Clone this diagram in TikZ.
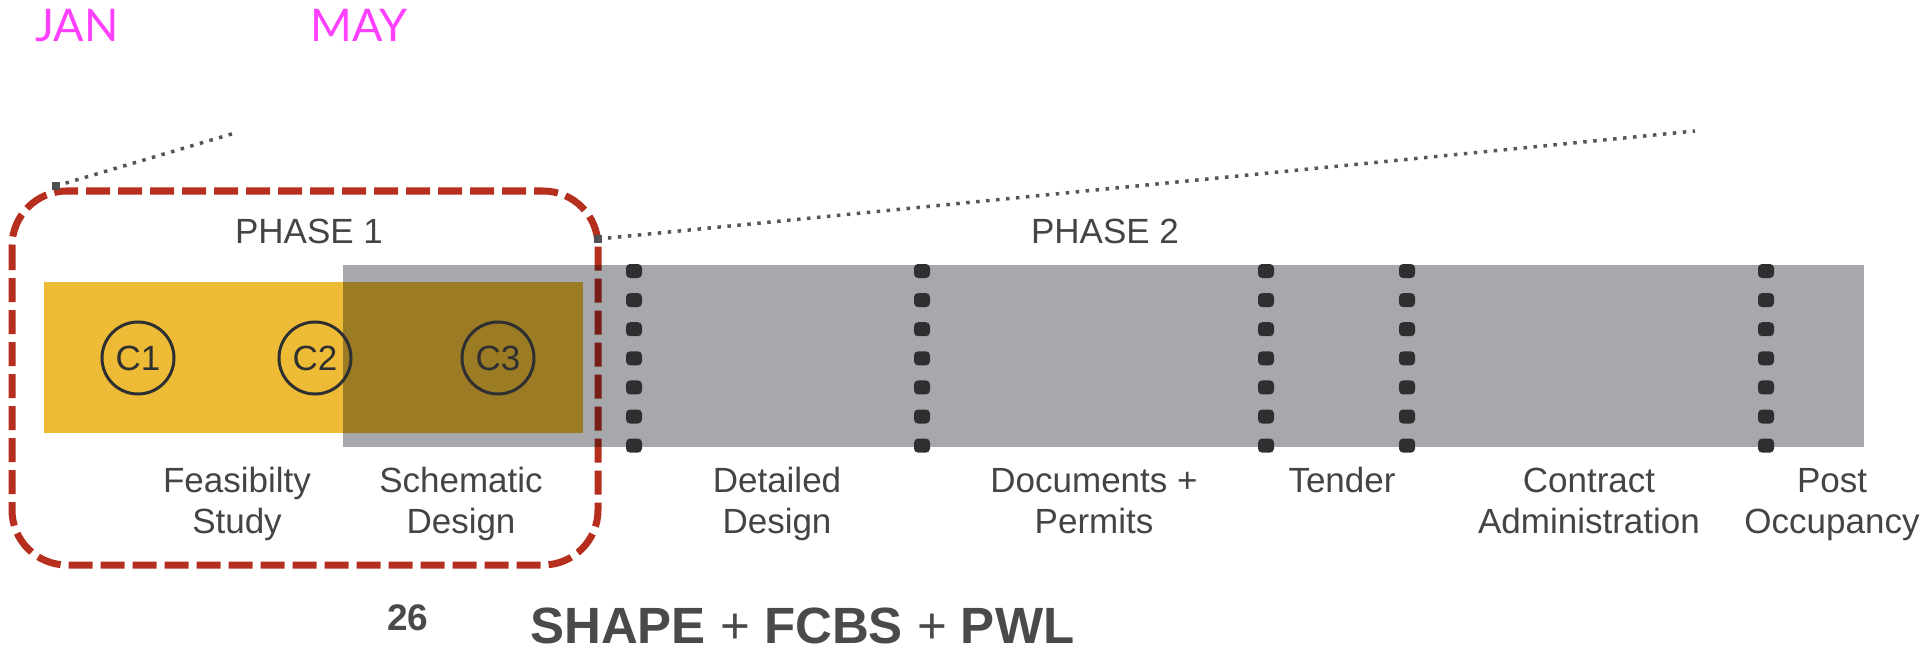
\documentclass[tikz,border=0pt]{standalone}
\usepackage{fontspec}
\setmainfont{Liberation Sans}
\newfontfamily\monthfont{Lato}
\definecolor{ink}{HTML}{444444}
\definecolor{titleink}{HTML}{4A4A4A}
\definecolor{month}{HTML}{FF40FF}
\definecolor{barGray}{HTML}{A7A8AB}
\definecolor{barYellow}{HTML}{EDBB35}
\definecolor{phaseRed}{HTML}{B52E1E}
\definecolor{dotc}{HTML}{2E2F31}
\definecolor{leader}{HTML}{555555}
\tikzset{
  lbl/.style={anchor=base, inner sep=0pt, text=ink,
    font=\fontsize{35}{41}\selectfont},
  phaselbl/.style={anchor=base, inner sep=0pt, text=ink,
    font=\fontsize{35}{41}\selectfont},
  monthlbl/.style={anchor=base, inner sep=0pt, text=month,
    font=\monthfont\fontsize{45}{50}\selectfont},
  cnode/.style={circle, draw=dotc, line width=3pt, minimum size=72pt,
    inner sep=0pt, text=dotc, font=\fontsize{35}{41}\selectfont},
  endsq/.style={rectangle, fill=dotc!85!white, minimum size=8pt, inner sep=0pt},
  dotline/.style={draw=leader, line width=3.5pt, dash pattern=on 3.5pt off 6.5pt},
  phasebox/.style={draw=phaseRed, line width=7pt, rounded corners=55pt,
    dash pattern=on 24pt off 8pt},
  milestone/.style={fill=dotc, rounded corners=4pt}
}
\newcommand{\twolines}[2]{\begin{tabular}[t]{@{}c@{}}#1\\#2\end{tabular}}
\begin{document}
\begin{tikzpicture}[x=1pt,y=-1pt]
\useasboundingbox (0,0) rectangle (1923,650);

% month markers
\node[monthlbl] (jan) at (77,42) {JAN};
\node[monthlbl] (may) at (359,42) {MAY};

% schedule bars
\fill[barGray] (343,265) rectangle (1864,447);
\begin{scope}[blend mode=multiply]
  \fill[barYellow] (44,282) rectangle (583,433);
  \draw[phasebox] (12,191) rectangle (598,565);
\end{scope}

% stage boundaries
\foreach \x in {634,922,1266,1407,1766}
  \foreach \k in {0,...,6}
    \fill[milestone] ({\x-8},{264+29.1*\k}) rectangle +(16,14);

% leaders to the months
\node[endsq] (s1) at (56,186) {};
\coordinate (e1) at (235,133);
\draw[dotline] (s1.center) -- (e1);
\node[endsq] (s2) at (598,239) {};
\coordinate (e2) at (1695,131);
\draw[dotline] (s2.center) -- (e2);

% phase titles
\node[phaselbl] (p1) at (309,243) {PHASE 1};
\node[phaselbl] (p2) at (1105,243) {PHASE 2};

% checkpoints
\node[cnode] (c1) at (138,358) {C1};
\node[cnode] (c2) at (315,358) {C2};
\node[cnode] (c3) at (498,358) {C3};

% stage labels
\node[lbl] (feas) at (237,492) {\twolines{Feasibilty}{Study}};
\node[lbl] (sche) at (461,492) {\twolines{Schematic}{Design}};
\node[lbl] (deta) at (777,492) {\twolines{Detailed}{Design}};
\node[lbl] (docs) at (1094,492) {\twolines{Documents +}{Permits}};
\node[lbl] (tend) at (1342,492) {Tender};
\node[lbl] (cont) at (1589,492) {\twolines{Contract}{Administration}};
\node[lbl] (post) at (1832,492) {\twolines{Post}{Occupancy}};

% footer
\node[anchor=base, inner sep=0pt, text=titleink,
  font=\bfseries\fontsize{37}{40}\selectfont] (page) at (408,630) {26};
\node[anchor=base west, inner sep=0pt, text=titleink,
  font=\fontsize{51}{56}\selectfont] (title) at (530,643)
  {\textbf{SHAPE} + \textbf{FCBS} + \textbf{PWL}};
\end{tikzpicture}
\end{document}
